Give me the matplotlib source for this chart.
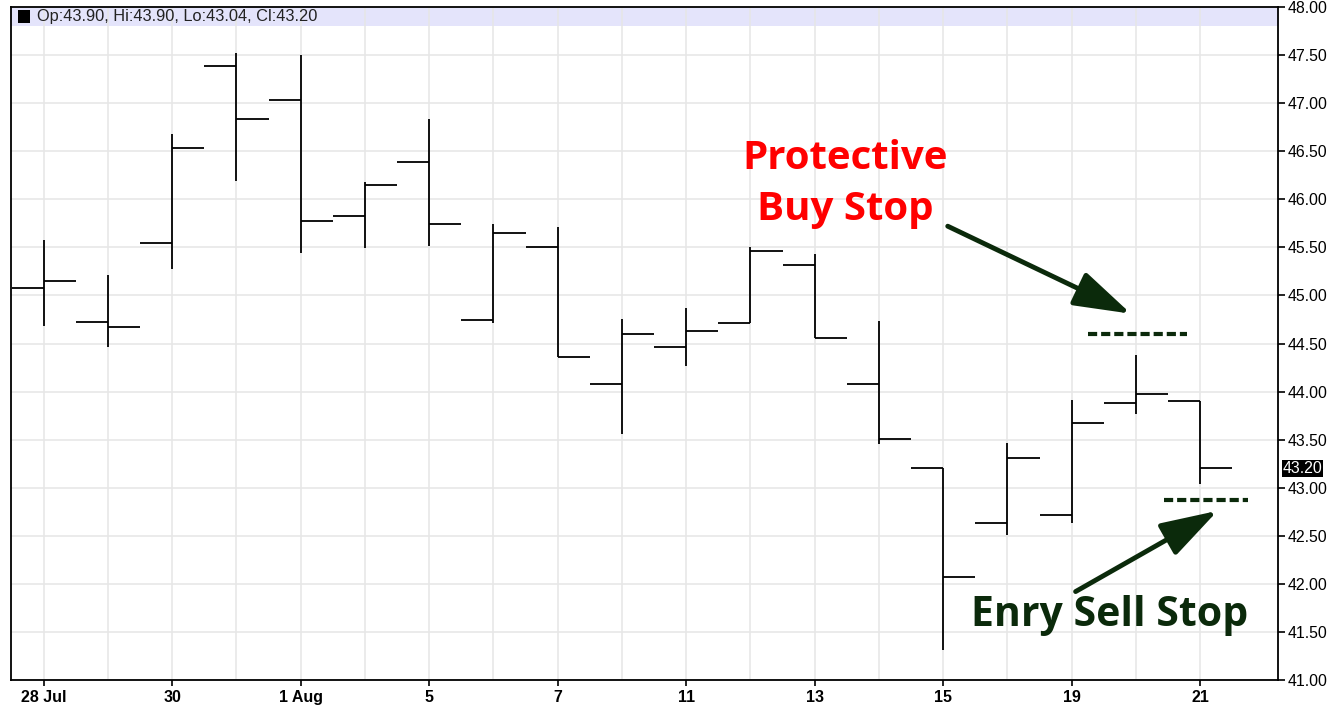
import matplotlib.pyplot as plt
from matplotlib.patches import Rectangle
from matplotlib.transforms import blended_transform_factory

# daily OHLC, 28 Jul - 21 Aug
dates = ["28 Jul", "29", "30", "31", "1 Aug", "4", "5", "6", "7", "8",
         "11", "12", "13", "14", "15", "18", "19", "20", "21"]
opens = [45.08, 44.72, 45.55, 47.39, 47.03, 45.83, 46.39, 44.74, 45.50, 44.08,
         44.46, 44.71, 45.32, 44.08, 43.20, 42.63, 42.72, 43.88, 43.90]
highs = [45.58, 45.21, 46.68, 47.52, 47.50, 46.18, 46.83, 45.74, 45.71, 44.76,
         44.87, 45.50, 45.43, 44.73, 43.20, 43.47, 43.91, 44.38, 43.90]
lows = [44.68, 44.46, 45.28, 46.19, 45.44, 45.49, 45.51, 44.71, 44.36, 43.56,
        44.27, 44.71, 44.56, 43.45, 41.31, 42.51, 42.63, 43.77, 43.04]
closes = [45.15, 44.67, 46.53, 46.84, 45.77, 46.15, 45.74, 45.65, 44.36, 44.60,
          44.63, 45.46, 44.56, 43.51, 42.07, 43.31, 43.67, 43.97, 43.20]

buy_stop = 44.60
sell_stop = 42.875
y_ticks = [41.0, 41.5, 42.0, 42.5, 43.0, 43.5, 44.0, 44.5, 45.0, 45.5, 46.0, 46.5, 47.0, 47.5, 48.0]

label_font = ["Liberation Sans", "DejaVu Sans"]
green = "#0b2a0b"

fig = plt.figure(figsize=(13.35, 7.06), dpi=100)
ax = fig.add_axes([0.0082, 0.0368, 0.9491, 0.9533])

n = len(dates)
x = list(range(n))

# bars
for i in x:
    ax.plot([i, i], [lows[i], highs[i]], color="black", lw=1.3, solid_capstyle="butt")
    ax.plot([i - 0.5, i], [opens[i], opens[i]], color="black", lw=1.3, solid_capstyle="butt")
    ax.plot([i, i + 0.5], [closes[i], closes[i]], color="black", lw=1.3, solid_capstyle="butt")

ax.set_xlim(-0.51, n - 1 + 1.21)
ax.set_ylim(41.0, 48.0)

# grid at every bar, labels every other day
ax.set_xticks(x, minor=True)
ax.set_xticks(x[::2])
ax.set_xticklabels(dates[::2], fontsize=11.5, fontweight="bold", family=label_font)
ax.set_yticks(y_ticks)
ax.set_yticklabels([f"{v:.2f}" for v in y_ticks], fontsize=11.4, family=label_font)
ax.grid(True, which="both", color="#e6e6e6", lw=1.1)
ax.set_axisbelow(True)
ax.yaxis.tick_right()
ax.tick_params(axis="y", direction="out", length=5, width=1.2, pad=2)
ax.tick_params(axis="x", which="major", direction="out", length=4, width=1.2, pad=3)
ax.tick_params(axis="x", which="minor", length=0)
for s in ax.spines.values():
    s.set_linewidth(1.3)

# header band
ax.add_patch(Rectangle((0, 1 - 0.028), 1, 0.028, transform=ax.transAxes,
                       facecolor="#e4e4fb", edgecolor="none", zorder=0.5))
ax.add_patch(Rectangle((0.0055, 1 - 0.024), 0.0095, 0.019, transform=ax.transAxes,
                       facecolor="black", edgecolor="none", zorder=3))
ax.text(0.0205, 1 - 0.0135, "Op:43.90, Hi:43.90, Lo:43.04, Cl:43.20",
        transform=ax.transAxes, ha="left", va="center", fontsize=11.8,
        family=label_font, color="#222222")

# last price marker on the axis
trans = blended_transform_factory(ax.transAxes, ax.transData)
ax.text(1.0035, closes[-1], f"{closes[-1]:.2f}", transform=trans, ha="left", va="center",
        fontsize=11.4, family=label_font, color="white",
        bbox=dict(boxstyle="square,pad=0.05", facecolor="black", edgecolor="none"))

# stop levels
ax.plot([16.25, 17.79], [buy_stop, buy_stop], color=green, lw=3, dashes=(2.2, 0.95),
        solid_capstyle="butt")
ax.plot([17.43, 18.75], [sell_stop, sell_stop], color=green, lw=3, dashes=(2.2, 0.95),
        solid_capstyle="butt")

arrow = dict(arrowstyle="-|>,head_length=1.6,head_width=0.5", color=green, lw=3.5,
             mutation_scale=22, shrinkA=0, shrinkB=0)
ax.annotate("", xy=(16.92, 44.81), xytext=(14.07, 45.72), arrowprops=arrow)
ax.annotate("", xy=(18.27, 42.76), xytext=(16.06, 41.92), arrowprops=arrow)

ax.text(12.48, 46.16, "Protective\nBuy Stop", ha="center", va="center", color="#ff0000",
        fontsize=29, fontweight="bold", family="Open Sans", linespacing=1.38)
ax.text(16.59, 41.56, "Enry Sell Stop", ha="center", va="baseline", color=green,
        fontsize=29.5, fontweight="bold", family="Open Sans")

plt.savefig("out.png", dpi=100)
